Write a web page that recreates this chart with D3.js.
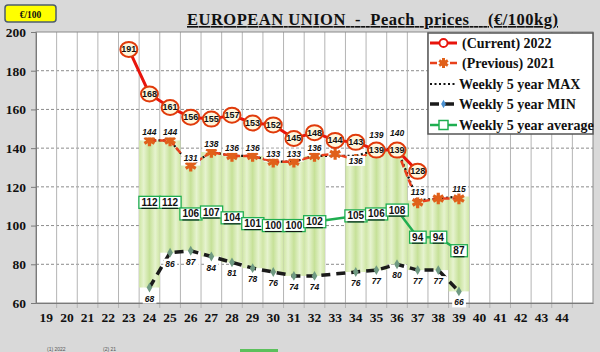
<!DOCTYPE html>
<html>
<head>
<meta charset="utf-8">
<script src="https://cdn.jsdelivr.net/npm/d3@7"></script>
<style>
  body { margin: 0; background: #d9d9d9; }
  svg { display: block; }
</style>
</head>
<body>
<svg id="chart" width="600" height="352"></svg>
<script>
// categories on the x axis (week numbers), last band has no label
let weeks = [19,20,21,22,23,24,25,26,27,28,29,30,31,32,33,34,35,36,37,38,39,40,41,42,43,44,45]
let weekLabels = ["19","20","21","22","23","24","25","26","27","28","29","30","31","32","33","34","35","36","37","38","39","40","41","42","43","44",""]
let yTicks = [60,80,100,120,140,160,180,200]

// weeks that carry data
let dataWeeks = [23,24,25,26,27,28,29,30,31,32,33,34,35,36,37,38,39]
let current2022 = [191,168,161,156,155,157,153,152,145,148,144,143,139,139,128,null,null]
let previous2021 = [null,144,144,131,138,136,136,133,133,136,137,134,139,139,112,114,114]
let max5 = [null,144,144,131,138,136,136,133,133,136,null,136,139,140,113,114,115]
let maxLabels = [null,144,144,131,138,136,136,133,133,136,null,136,139,140,113,null,115]
let min5 = [null,68,86,87,84,81,78,76,74,74,null,76,77,80,77,77,66]
let avg5 = [null,112,112,106,107,104,101,100,100,102,null,105,106,108,94,94,87]

let legendNames = ["(Current) 2022","(Previous) 2021","Weekly 5 year MAX","Weekly 5 year MIN","Weekly 5 year average"]

let plot = {left: 36, right: 593, top: 32, bottom: 303}

let svg = d3.select("#chart")

let x = d3.scaleBand().domain(weeks).range([plot.left, plot.right]).padding(0)
let y = d3.scaleLinear().domain([60, 200]).range([plot.bottom, plot.top])
let cx = function(w){ return x(w) + x.bandwidth() / 2 }

function rows(values){
    return dataWeeks.map(function(w, i){ return {week: w, value: values[i]} })
}

// gradient for the min-max bars
let defs = svg.append("defs")
let grad = defs.append("linearGradient").attr("id", "barGrad")
    .attr("x1", "0").attr("x2", "1").attr("y1", "0").attr("y2", "0")
let stops = [[0, "#cfe6a4"], [0.22, "#e6f3cf"], [0.5, "#c6e198"], [0.78, "#e6f3cf"], [1, "#cfe6a4"]]
stops.forEach(function(s){
    grad.append("stop").attr("offset", s[0]).attr("stop-color", s[1])
})

// plot background
svg.append("rect")
   .attr("x", plot.left).attr("y", plot.top)
   .attr("width", plot.right - plot.left).attr("height", plot.bottom - plot.top)
   .attr("fill", "white")

// horizontal grid
svg.append("g").selectAll("line")
   .data(yTicks.slice(1, -1))
   .enter().append("line")
   .attr("x1", plot.left).attr("x2", plot.right)
   .attr("y1", function(d){ return y(d) }).attr("y2", function(d){ return y(d) })
   .attr("stroke", "#8c8c8c").attr("stroke-dasharray", "3,2")

// vertical grid at band edges
svg.append("g").selectAll("line")
   .data(weeks.slice(1))
   .enter().append("line")
   .attr("x1", function(d){ return x(d) }).attr("x2", function(d){ return x(d) })
   .attr("y1", plot.top).attr("y2", plot.bottom + 5)
   .attr("stroke", "#b4b4b4")

// floating bars min -> max
let bars = rows(max5).map(function(d, i){ return {week: d.week, max: d.value, min: min5[i]} })
                     .filter(function(d){ return d.max != null && d.min != null })
svg.append("g").selectAll("rect")
   .data(bars)
   .enter().append("rect")
   .attr("x", function(d){ return x(d.week) })
   .attr("width", x.bandwidth())
   .attr("y", function(d){ return y(d.max) })
   .attr("height", function(d){ return y(d.min) - y(d.max) })
   .attr("fill", "url(#barGrad)")

// plot frame
svg.append("rect")
   .attr("x", plot.left).attr("y", plot.top)
   .attr("width", plot.right - plot.left).attr("height", plot.bottom - plot.top)
   .attr("fill", "none").attr("stroke", "#8a8a8a")

// axes
let yAxis = svg.append("g")
   .attr("transform", `translate(${plot.left},0)`)
   .call(d3.axisLeft(y).tickValues(yTicks).tickSize(5).tickPadding(5))
yAxis.select(".domain").attr("stroke", "#7a7a7a")
yAxis.selectAll(".tick line").attr("stroke", "#7a7a7a")
yAxis.selectAll("text")
     .attr("font-family", "Liberation Serif").attr("font-weight", "bold")
     .attr("font-size", 13.5).attr("fill", "#111")

let xAxis = svg.append("g")
   .attr("transform", `translate(0,${plot.bottom})`)
   .call(d3.axisBottom(x).tickSize(0).tickPadding(9).tickFormat(function(d, i){ return weekLabels[i] }))
xAxis.select(".domain").attr("stroke", "#7a7a7a")
xAxis.selectAll("text")
     .attr("font-family", "Liberation Serif").attr("font-weight", "bold")
     .attr("font-size", 13.5).attr("fill", "#111")

// lines
function drawLine(values, color, width, dash){
    let data = rows(values).filter(function(d){ return d.value != null })
    let line = d3.line().x(function(d){ return cx(d.week) }).y(function(d){ return y(d.value) })
    svg.append("path")
       .datum(data)
       .attr("d", line)
       .attr("fill", "none")
       .attr("stroke", color)
       .attr("stroke-width", width)
       .attr("stroke-dasharray", dash)
    return data
}

let minData = drawLine(min5, "#1b1b1b", 3.5, "9,6")
let maxData = drawLine(max5, "#111", 2.2, "2,2.5")
let avgData = drawLine(avg5, "#1fae50", 2.5, null)
let prevData = drawLine(previous2021, "#e8401c", 2.5, "7,3")
let curData = drawLine(current2022, "#e8140c", 3, null)

// min markers
svg.append("g").selectAll("path")
   .data(minData)
   .enter().append("path")
   .attr("transform", function(d){ return `translate(${cx(d.week)},${y(d.value)})` })
   .attr("d", d3.symbol(d3.symbolDiamond, 28))
   .attr("fill", "#6f9a82")

// previous 2021 markers
svg.append("g").selectAll("path")
   .data(prevData)
   .enter().append("path")
   .attr("transform", function(d){ return `translate(${cx(d.week)},${y(d.value)})` })
   .attr("d", d3.symbol(d3.symbolAsterisk, 95))
   .attr("fill", "none")
   .attr("stroke", "#e0601a")
   .attr("stroke-width", 3.2)

// labels with white background
function boxLabel(g, px, py, txt, opts){
    let t = g.append("text")
       .attr("x", px).attr("y", py)
       .attr("text-anchor", "middle").attr("dominant-baseline", "central")
       .attr("font-family", "Liberation Sans").attr("font-weight", "bold")
       .attr("font-size", opts.size).attr("font-style", opts.italic ? "italic" : "normal")
       .attr("text-decoration", opts.underline ? "underline" : "none")
       .attr("fill", "#111")
       .text(txt)
    let b = t.node().getBBox()
    g.insert("rect", "text")
     .attr("x", b.x - opts.padX).attr("y", b.y - opts.padY)
     .attr("width", b.width + 2 * opts.padX).attr("height", b.height + 2 * opts.padY)
     .attr("fill", "white")
     .attr("stroke", opts.stroke || "none")
     .attr("stroke-width", 1.3)
}

// current 2022 circles with values
let curG = svg.append("g").selectAll("g")
   .data(curData)
   .enter().append("g")
   .attr("transform", function(d){ return `translate(${cx(d.week)},${y(d.value)})` })
curG.append("ellipse")
    .attr("rx", 8.5).attr("ry", 7.5)
    .attr("fill", "#fff7dd")
    .attr("stroke", "#e03a0a").attr("stroke-width", 2)
curG.append("text")
    .attr("text-anchor", "middle").attr("dominant-baseline", "central")
    .attr("font-family", "Liberation Sans").attr("font-weight", "bold")
    .attr("font-size", 9).attr("fill", "#111")
    .text(function(d){ return d.value })

// max labels: above the point, moved clear of a nearby 2022 circle
let maxG = svg.append("g")
rows(maxLabels).forEach(function(d, i){
    if (d.value == null) return
    let cur = current2022[i]
    let off = -8
    if (cur != null && cur - d.value >= 3 && cur - d.value <= 10) off = 5
    if (cur != null && Math.abs(cur - d.value) <= 2) off = -15
    let g = maxG.append("g")
    boxLabel(g, cx(d.week), y(d.value) + off, d.value, {size: 8.5, italic: true, padX: 2, padY: 0})
})

// min labels
let minG = svg.append("g")
minData.forEach(function(d){
    let g = minG.append("g")
    boxLabel(g, cx(d.week), y(d.value) + 11, d.value, {size: 8.5, italic: true, padX: 2, padY: 0})
})

// avg markers as label boxes
let avgG = svg.append("g")
avgData.forEach(function(d){
    let g = avgG.append("g")
    boxLabel(g, cx(d.week), y(d.value), d.value, {size: 10, underline: true, padX: 2.5, padY: 0.5, stroke: "#1fae50"})
})

// legend
let lg = svg.append("g")
lg.append("rect")
  .attr("x", 428).attr("y", 33).attr("width", 165).attr("height", 101)
  .attr("fill", "white").attr("stroke", "#555").attr("stroke-width", 1.5)
let legendY = [43, 63, 84, 104, 125]
let legendStyles = [
    {color: "#e8140c", width: 3, dash: null},
    {color: "#e8401c", width: 2.5, dash: "7,3"},
    {color: "#111", width: 2.2, dash: "2,2.5"},
    {color: "#1b1b1b", width: 3.5, dash: "9,6"},
    {color: "#1fae50", width: 2.5, dash: null}
]
legendNames.forEach(function(name, i){
    let ly = legendY[i]
    lg.append("line")
      .attr("x1", 430).attr("x2", 457).attr("y1", ly).attr("y2", ly)
      .attr("stroke", legendStyles[i].color).attr("stroke-width", legendStyles[i].width)
      .attr("stroke-dasharray", legendStyles[i].dash)
    lg.append("text")
      .attr("x", i < 2 ? 462 : 459).attr("y", ly + 4.5)
      .attr("font-family", "Liberation Serif").attr("font-weight", "bold")
      .attr("font-size", 14).attr("fill", "#111")
      .text(name)
})
lg.append("circle").attr("cx", 443.5).attr("cy", legendY[0]).attr("r", 4)
  .attr("fill", "white").attr("stroke", "#e8140c").attr("stroke-width", 1.8)
lg.append("path").attr("transform", `translate(443.5,${legendY[1]})`)
  .attr("d", d3.symbol(d3.symbolAsterisk, 70))
  .attr("fill", "none").attr("stroke", "#e0601a").attr("stroke-width", 3)
lg.append("path").attr("transform", `translate(443.5,${legendY[3]})`)
  .attr("d", d3.symbol(d3.symbolDiamond, 20)).attr("fill", "#4a90d0")
lg.append("rect").attr("x", 439).attr("y", legendY[4] - 4.5).attr("width", 9).attr("height", 9)
  .attr("fill", "white").attr("stroke", "#1fae50").attr("stroke-width", 1.5)

// title
svg.append("text")
   .attr("x", 187).attr("y", 25)
   .attr("font-family", "Liberation Serif").attr("font-weight", "bold")
   .attr("font-size", 16.5).attr("fill", "#111")
   .attr("text-decoration", "underline")
   .attr("textLength", 371).attr("lengthAdjust", "spacing")
   .attr("xml:space", "preserve")
   .style("white-space", "pre")
   .text("EUROPEAN UNION  -  Peach  prices    (€/100kg)")

// unit badge
svg.append("rect")
   .attr("x", 5).attr("y", 5).attr("width", 51).attr("height", 17).attr("rx", 3)
   .attr("fill", "#ffff00").attr("stroke", "#4d5d6d").attr("stroke-width", 1.5)
svg.append("text")
   .attr("x", 30.5).attr("y", 17.5).attr("text-anchor", "middle")
   .attr("font-family", "Liberation Serif").attr("font-weight", "bold")
   .attr("font-size", 9.5).attr("fill", "#111")
   .text("€/100")

// remains of a lower legend at the bottom edge
svg.append("text").attr("x", 47).attr("y", 351).attr("font-family", "Liberation Sans")
   .attr("font-size", 5).attr("fill", "#555").text("(1) 2022")
svg.append("text").attr("x", 103).attr("y", 351).attr("font-family", "Liberation Sans")
   .attr("font-size", 5).attr("fill", "#555").text("(2) 21")
svg.append("rect").attr("x", 240).attr("y", 349).attr("width", 38).attr("height", 3)
   .attr("fill", "#5cc05c")
</script>
</body>
</html>
